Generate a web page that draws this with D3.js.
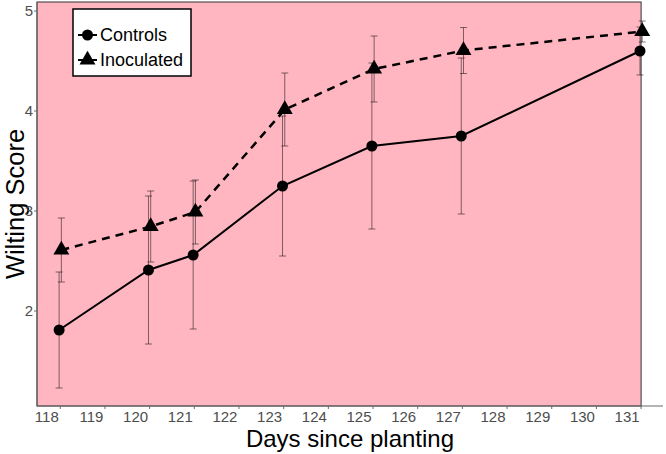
<!DOCTYPE html>
<html lang="en">

<head>
    <meta charset="UTF-8">
    <title>Wilting Score</title>
    <script src="https://d3js.org/d3.v7.min.js"></script>
    <style>
        body {
            margin: 0;
            background: #fff;
        }

        text {
            font-family: "Liberation Sans", Arial, sans-serif;
        }

        .tick-label {
            fill: #4d4d4d;
            font-size: 15px;
        }

        .err {
            stroke: #000;
            stroke-opacity: 0.5;
            stroke-width: 1;
        }
    </style>
</head>

<body>
    <svg id="chart" width="666" height="454"></svg>
</body>
<script>
    // days since planting
    const days = [118, 120, 121, 123, 125, 127, 131];

    // mean wilting score and error half-width
    const controlsMean = [1.81, 2.41, 2.56, 3.25, 3.65, 3.75, 4.60];
    const controlsErr = [0.58, 0.74, 0.74, 0.70, 0.83, 0.78, 0.24];
    const inocMean = [2.61, 2.845, 2.99, 4.015, 4.42, 4.605, 4.795];
    const inocErr = [0.32, 0.355, 0.32, 0.365, 0.33, 0.23, 0.105];

    const xTicks = [118, 119, 120, 121, 122, 123, 124, 125, 126, 127, 128, 129, 130, 131];
    const yTicks = [2, 3, 4, 5];

    const svg = d3.select("#chart");

    const x = d3.scaleLinear().domain([117.48, 131.49]).range([37, 663]);
    const y = d3.scaleLinear().domain([1.05, 5.09]).range([406, 2]);

    const controls = days.map((d, i) => ({ day: d - 0.025, v: controlsMean[i], e: controlsErr[i] }));
    const inoculated = days.map((d, i) => ({ day: d + 0.025, v: inocMean[i], e: inocErr[i] }));

    // panel
    svg.append("rect")
        .attr("x", x(x.domain()[0]))
        .attr("y", y(y.domain()[1]))
        .attr("width", x(131) - x(x.domain()[0]))
        .attr("height", y(y.domain()[0]) - y(y.domain()[1]))
        .attr("fill", "#ffb6c1")
        .attr("stroke", "#333")
        .attr("stroke-width", 1);

    // axis titles
    svg.append("text")
        .attr("x", (x.range()[0] + x.range()[1]) / 2)
        .attr("y", 447)
        .attr("text-anchor", "middle")
        .attr("font-size", 24)
        .text("Days since planting");

    svg.append("text")
        .attr("transform", `translate(23.5,${(y.range()[0] + y.range()[1]) / 2}) rotate(-90)`)
        .attr("text-anchor", "middle")
        .attr("font-size", 25.5)
        .text("Wilting Score");

    // x axis
    const xAxis = svg.append("g").attr("transform", `translate(0,${y(y.domain()[0])})`);
    xAxis.append("line")
        .attr("x1", x.range()[0]).attr("x2", x.range()[1])
        .attr("stroke", "#6b6b6b").attr("stroke-width", 1.2);
    xTicks.forEach(t => {
        xAxis.append("line")
            .attr("x1", x(t)).attr("x2", x(t))
            .attr("y1", 0).attr("y2", 3)
            .attr("stroke", "#6b6b6b");
        xAxis.append("text")
            .attr("class", "tick-label")
            .attr("x", x(t) - 1.5)
            .attr("y", 16)
            .attr("text-anchor", "end")
            .text(t);
    });

    // y axis
    const yAxis = svg.append("g").attr("transform", `translate(${x.range()[0]},0)`);
    yAxis.append("line")
        .attr("y1", y.range()[0]).attr("y2", y.range()[1])
        .attr("stroke", "#6b6b6b").attr("stroke-width", 1.2);
    yTicks.forEach(t => {
        yAxis.append("line")
            .attr("x1", -3).attr("x2", 0)
            .attr("y1", y(t)).attr("y2", y(t))
            .attr("stroke", "#6b6b6b");
        yAxis.append("text")
            .attr("class", "tick-label")
            .attr("x", -4)
            .attr("y", y(t))
            .attr("dy", "0.36em")
            .attr("text-anchor", "end")
            .text(t);
    });

    // error bars
    function errorBars(data) {
        const g = svg.append("g");
        data.forEach(d => {
            g.append("line").attr("class", "err")
                .attr("x1", x(d.day)).attr("x2", x(d.day))
                .attr("y1", y(d.v - d.e)).attr("y2", y(d.v + d.e));
            [d.v - d.e, d.v + d.e].forEach(v => {
                g.append("line").attr("class", "err")
                    .attr("x1", x(d.day) - 3.5).attr("x2", x(d.day) + 3.5)
                    .attr("y1", y(v)).attr("y2", y(v));
            });
        });
    }
    errorBars(controls);
    errorBars(inoculated);

    const line = d3.line().x(d => x(d.day)).y(d => y(d.v));

    svg.append("path")
        .datum(controls)
        .attr("d", line)
        .attr("fill", "none")
        .attr("stroke", "#000")
        .attr("stroke-width", 2);

    svg.append("path")
        .datum(inoculated)
        .attr("d", line)
        .attr("fill", "none")
        .attr("stroke", "#000")
        .attr("stroke-width", 2.5)
        .attr("stroke-dasharray", "8,6");

    const circleSym = d3.symbol().type(d3.symbolCircle).size(95);
    const triSym = d3.symbol().type(d3.symbolTriangle).size(110);

    svg.append("g").selectAll("path")
        .data(controls)
        .join("path")
        .attr("transform", d => `translate(${x(d.day)},${y(d.v)})`)
        .attr("d", circleSym);

    svg.append("g").selectAll("path")
        .data(inoculated)
        .join("path")
        .attr("transform", d => `translate(${x(d.day)},${y(d.v)})`)
        .attr("d", triSym);

    // legend
    const legend = svg.append("g").attr("transform", "translate(73,9)");
    legend.append("rect")
        .attr("width", 118).attr("height", 67)
        .attr("fill", "#fff")
        .attr("stroke", "#000")
        .attr("stroke-width", 1.5);

    const legendItems = [
        { label: "Controls", sym: circleSym },
        { label: "Inoculated", sym: triSym }
    ];
    legendItems.forEach((item, i) => {
        const row = legend.append("g").attr("transform", `translate(0,${26 + i * 25})`);
        row.append("line")
            .attr("x1", 5).attr("x2", 24)
            .attr("stroke", "#000").attr("stroke-width", 2);
        row.append("path")
            .attr("transform", "translate(14.5,0)")
            .attr("d", item.sym);
        row.append("text")
            .attr("x", 27)
            .attr("dy", "0.36em")
            .attr("font-size", 18)
            .text(item.label);
    });
</script>

</html>
